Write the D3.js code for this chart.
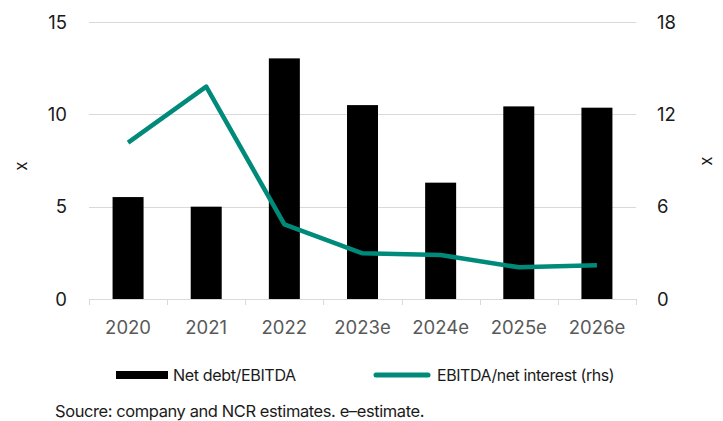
<!DOCTYPE html>
<html>
<head>
<meta charset="utf-8">
<script src="https://cdn.jsdelivr.net/npm/d3@7"></script>
<style>
  html, body { margin: 0; padding: 0; background: #fff; }
  svg { display: block; }
</style>
</head>
<body>
<svg id="chart" width="723" height="421"></svg>
<script>
const categories = ["2020", "2021", "2022", "2023e", "2024e", "2025e", "2026e"];
const netDebtEbitda = [5.52, 5.0, 13.03, 10.5, 6.3, 10.43, 10.36];
const ebitdaNetInterest = [10.16, 13.8, 4.85, 2.97, 2.86, 2.06, 2.19];
const leftTicks = [0, 5, 10, 15];
const rightTicks = [0, 6, 12, 18];

const svg = d3.select("#chart");
const m = { left: 89, right: 636, top: 22, bottom: 299 };
const font = "Inter, 'Noto Sans', sans-serif";
const teal = "#008a7a";

// shrink or grow a text element's font so it spans the given width
function fitWidth(sel, w) {
  const node = sel.node();
  const fs = parseFloat(sel.style("font-size"));
  const cur = node.getComputedTextLength();
  if (cur > 0) sel.style("font-size", (fs * w / cur).toFixed(2) + "px");
  return sel;
}

const x = d3.scaleBand().domain(categories).range([m.left, m.right]);
const yL = d3.scaleLinear().domain([0, 15]).range([m.bottom, m.top]);
const yR = d3.scaleLinear().domain([0, 18]).range([m.bottom, m.top]);
const cx = c => x(c) + x.bandwidth() / 2;
const barW = 31;

// gridlines
svg.append("g").selectAll("line").data(leftTicks.slice(1)).join("line")
  .attr("x1", m.left).attr("x2", m.right)
  .attr("y1", d => Math.round(yL(d)) + 0.5).attr("y2", d => Math.round(yL(d)) + 0.5)
  .attr("stroke", "#d9d9d9").attr("stroke-width", 1);

// bars
svg.append("g").selectAll("rect").data(categories).join("rect")
  .attr("x", d => cx(d) - barW / 2)
  .attr("width", barW)
  .attr("y", (d, i) => yL(netDebtEbitda[i]))
  .attr("height", (d, i) => yL(0) - yL(netDebtEbitda[i]))
  .attr("fill", "#000");

// baseline + category ticks
svg.append("line").attr("x1", m.left).attr("x2", m.right)
  .attr("y1", m.bottom + 0.5).attr("y2", m.bottom + 0.5)
  .attr("stroke", "#d9d9d9").attr("stroke-width", 1);
const bounds = categories.map(c => x(c)).concat([m.right]);
svg.append("g").selectAll("line").data(bounds).join("line")
  .attr("x1", d => Math.round(d) + 0.5).attr("x2", d => Math.round(d) + 0.5)
  .attr("y1", m.bottom).attr("y2", m.bottom + 6)
  .attr("stroke", "#d9d9d9").attr("stroke-width", 1);

// line series on right axis
const line = d3.line()
  .x((d, i) => cx(categories[i]))
  .y(d => yR(d));
svg.append("path").datum(ebitdaNetInterest)
  .attr("d", line)
  .attr("fill", "none")
  .attr("stroke", teal)
  .attr("stroke-width", 4.5)
  .attr("stroke-linejoin", "round");

// left axis labels
svg.append("g").selectAll("text").data(leftTicks).join("text")
  .attr("x", 67).attr("y", d => yL(d)).attr("dy", "0.36em")
  .attr("text-anchor", "end")
  .style("font-family", font).style("font-size", "18.5px").attr("fill", "#1a1a1a")
  .text(d => d);

// right axis labels
svg.append("g").selectAll("text").data(rightTicks).join("text")
  .attr("x", 657).attr("y", d => yR(d)).attr("dy", "0.36em")
  .attr("text-anchor", "start")
  .style("font-family", font).style("font-size", "18.5px").attr("fill", "#1a1a1a")
  .text(d => d);

// category labels
svg.append("g").selectAll("text").data(categories).join("text")
  .attr("x", d => cx(d)).attr("y", 327).attr("dy", "0.36em")
  .attr("text-anchor", "middle")
  .style("font-family", font).style("font-size", "18.5px").attr("fill", "#595959")
  .text(d => d);

// axis titles
svg.append("text").attr("transform", "translate(21,166) rotate(-90)")
  .attr("text-anchor", "middle").attr("dy", "0.35em")
  .style("font-family", font).style("font-size", "17px").attr("fill", "#1a1a1a").text("x");
svg.append("text").attr("transform", "translate(706,161) rotate(-90)")
  .attr("text-anchor", "middle").attr("dy", "0.35em")
  .style("font-family", font).style("font-size", "17px").attr("fill", "#1a1a1a").text("x");

// legend
const lg = svg.append("g");
lg.append("rect").attr("x", 116).attr("y", 371).attr("width", 52).attr("height", 8).attr("fill", "#000");
fitWidth(lg.append("text").attr("x", 173).attr("y", 375).attr("dy", "0.36em")
  .style("font-family", font).style("font-size", "14px").style("letter-spacing", "-0.4px")
  .attr("fill", "#1a1a1a").text("Net debt/EBITDA"), 122);
lg.append("line").attr("x1", 376).attr("x2", 428).attr("y1", 375).attr("y2", 375)
  .attr("stroke", teal).attr("stroke-width", 5).attr("stroke-linecap", "round");
fitWidth(lg.append("text").attr("x", 437).attr("y", 375).attr("dy", "0.36em")
  .style("font-family", font).style("font-size", "14px").style("letter-spacing", "-0.4px")
  .attr("fill", "#1a1a1a").text("EBITDA/net interest (rhs)"), 176);

// source note
fitWidth(svg.append("text").attr("x", 55).attr("y", 411).attr("dy", "0.36em")
  .style("font-family", font).style("font-size", "14px").style("letter-spacing", "-0.4px")
  .attr("fill", "#1a1a1a")
  .text("Soucre: company and NCR estimates. e\u2013estimate."), 366);
</script>
</body>
</html>
